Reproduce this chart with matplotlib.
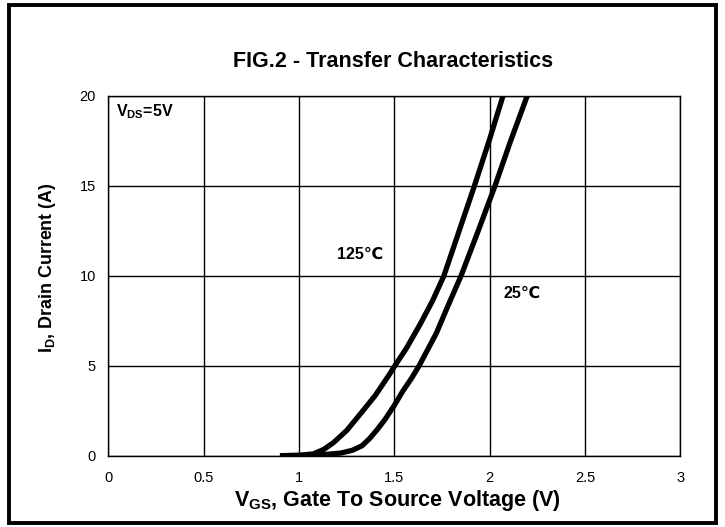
import matplotlib
matplotlib.use("Agg")
import matplotlib.pyplot as plt
from matplotlib.patches import Rectangle

# ==========================
# DATOS
# ==========================

vgs_125 = [0.90, 1.00, 1.075, 1.13, 1.18, 1.25, 1.32, 1.40, 1.47, 1.50, 1.565, 1.635,
           1.70, 1.76, 1.84, 1.92, 2.00, 2.07]
id_125 = [0.0, 0.02, 0.10, 0.35, 0.72, 1.4, 2.3, 3.35, 4.45, 4.95, 6.0, 7.3,
          8.6, 10.0, 12.5, 15.0, 17.6, 20.0]

vgs_25 = [0.90, 1.05, 1.15, 1.22, 1.28, 1.33, 1.37, 1.41, 1.45, 1.475, 1.50, 1.545,
          1.59, 1.63, 1.72, 1.78, 1.85, 1.94, 2.028, 2.11, 2.197]
id_25 = [0.0, 0.02, 0.08, 0.15, 0.30, 0.55, 0.95, 1.45, 2.0, 2.4, 2.8, 3.6,
         4.3, 5.0, 6.8, 8.3, 10.0, 12.5, 15.0, 17.5, 20.0]

x_ticks = [0, 0.5, 1, 1.5, 2, 2.5, 3]
x_tick_labels = ["0", "0.5", "1", "1.5", "2", "2.5", "3"]
y_ticks = [0, 5, 10, 15, 20]

plt.rcParams["font.family"] = ["Liberation Sans", "DejaVu Sans"]
plt.rcParams["mathtext.fontset"] = "custom"
plt.rcParams["mathtext.rm"] = "Liberation Sans:bold"
plt.rcParams["mathtext.it"] = "Liberation Sans:bold"
plt.rcParams["mathtext.bf"] = "Liberation Sans:bold"

fig = plt.figure(figsize=(7.25, 5.27), dpi=100)
ax = fig.add_axes([0.1494, 0.1353, 0.7891, 0.6831])

ax.plot(vgs_125, id_125, color="black", lw=3.8, solid_joinstyle="round", solid_capstyle="butt")
ax.plot(vgs_25, id_25, color="black", lw=3.8, solid_joinstyle="round", solid_capstyle="butt")

ax.set_xlim(0, 3)
ax.set_ylim(0, 20)
ax.set_xticks(x_ticks)
ax.set_xticklabels(x_tick_labels)
ax.set_yticks(y_ticks)
ax.tick_params(length=0, labelsize=10.5, pad=11)
ax.tick_params(axis="y", pad=9)
ax.grid(True, color="black", lw=1.0)
ax.set_axisbelow(True)
for s in ax.spines.values():
    s.set_linewidth(1.0)

ax.text(0.04, 19.1, r"V$_{\mathrm{DS}}$=5V", fontsize=11.5, fontweight="bold", va="center", ha="left")
ax.text(1.32, 11.2, "125℃", fontsize=11.5, fontweight="bold", ha="center", va="center")
ax.text(2.17, 9.0, "25℃", fontsize=11.5, fontweight="bold", ha="center", va="center")

fig.text(0.542, 0.884, "FIG.2 - Transfer Characteristics", fontsize=15.5,
         fontweight="bold", ha="center", va="center")
fig.text(0.548, 0.051, r"V$_{\mathrm{GS}}$, Gate To Source Voltage (V)", fontsize=15.5,
         fontweight="bold", ha="center", va="center")
fig.text(0.065, 0.492, r"I$_{\mathrm{D}}$, Drain Current (A)", fontsize=12.9,
         fontweight="bold", ha="center", va="center", rotation=90)

# marco exterior
fig.patches.append(Rectangle((0.012, 0.008), 0.976, 0.982, transform=fig.transFigure,
                             fill=False, edgecolor="black", lw=2.8))

fig.savefig("out.png", dpi=100)
